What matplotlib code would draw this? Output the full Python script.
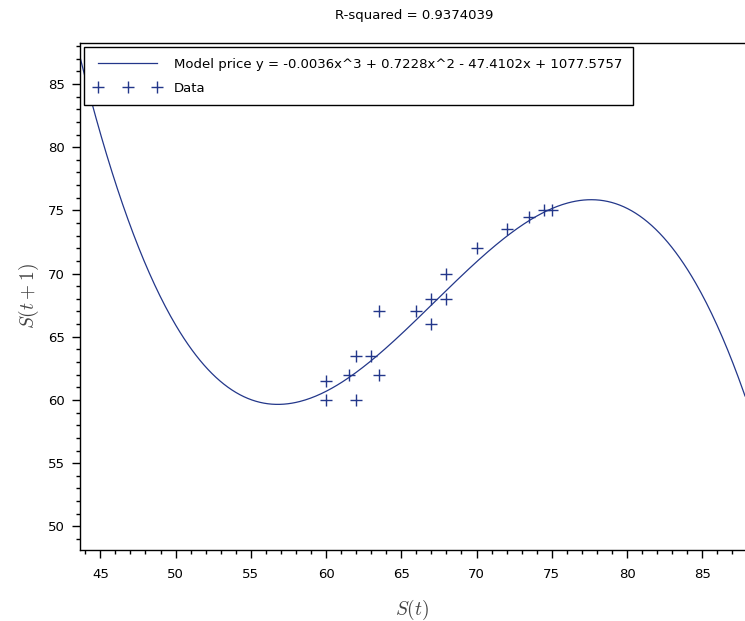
import numpy as np
import matplotlib
matplotlib.use("Agg")
import matplotlib.pyplot as plt
from matplotlib.ticker import MultipleLocator

# Data
s_t = [60, 60, 61.5, 62, 62, 63, 63.5, 63.5, 66, 67, 67, 68, 68, 70, 72, 73.5, 74.5, 75]
s_t1 = [61.5, 60, 62, 60, 63.5, 63.5, 62, 67, 67, 66, 68, 68, 70, 72, 73.5, 74.5, 75, 75]
# cubic model coefficients (cubic term at the precision the drawn curve implies)
model_coef = [-0.003585, 0.7228, -47.4102, 1077.5757]
model_label = "Model price y = -0.0036x^3 + 0.7228x^2 - 47.4102x + 1077.5757"
title_text = "R-squared = 0.9374039"
x_ticks = [45, 50, 55, 60, 65, 70, 75, 80, 85]
y_ticks = [50, 55, 60, 65, 70, 75, 80, 85]

color = "#23378a"

plt.rcParams["font.family"] = ["DejaVu Sans"]
plt.rcParams["mathtext.fontset"] = "cm"

fig = plt.figure(figsize=(7.45, 6.21), dpi=100)
ax = fig.add_axes([80 / 745, 1 - 550 / 621, 1 - 80 / 745, (550 - 43) / 621])

xlim = (43.65, 87.84)
ylim = (48.13, 88.24)

xs = np.linspace(xlim[0], xlim[1], 500)
ax.plot(xs, np.polyval(model_coef, xs), color=color, lw=0.9, label=model_label)
ax.plot(s_t, s_t1, linestyle="none", marker="+", markersize=8, markeredgewidth=1.0,
        color=color, label="Data")

ax.set_xlim(*xlim)
ax.set_ylim(*ylim)
ax.set_xticks(x_ticks)
ax.set_yticks(y_ticks)
ax.xaxis.set_minor_locator(MultipleLocator(1))
ax.yaxis.set_minor_locator(MultipleLocator(1))
ax.tick_params(which="major", direction="out", length=6, width=1, labelsize=9.5,
               colors="black", pad=5)
ax.tick_params(which="minor", direction="out", length=3, width=1)
ax.tick_params(axis="x", which="major", pad=7)
ax.spines["right"].set_visible(False)
for sp in ["left", "bottom", "top"]:
    ax.spines[sp].set_linewidth(1.0)

ax.set_xlabel("$S(t)$", fontsize=14, color="#444444", labelpad=12)
ax.set_ylabel("$S(t+1)$", fontsize=14, color="#444444", labelpad=5)
fig.text(414 / 745, 1 - 15 / 621, title_text, ha="center", va="center", fontsize=9.5)

leg = ax.legend(loc="upper left", bbox_to_anchor=(0.0, 1.0), fontsize=9.5, numpoints=3,
                handlelength=5.0, labelspacing=0.85, borderaxespad=0.3,
                fancybox=False, frameon=True, framealpha=1, edgecolor="black",
                borderpad=0.8, handletextpad=1.0)
leg.get_frame().set_linewidth(1.0)

fig.savefig("out.png", dpi=100)
